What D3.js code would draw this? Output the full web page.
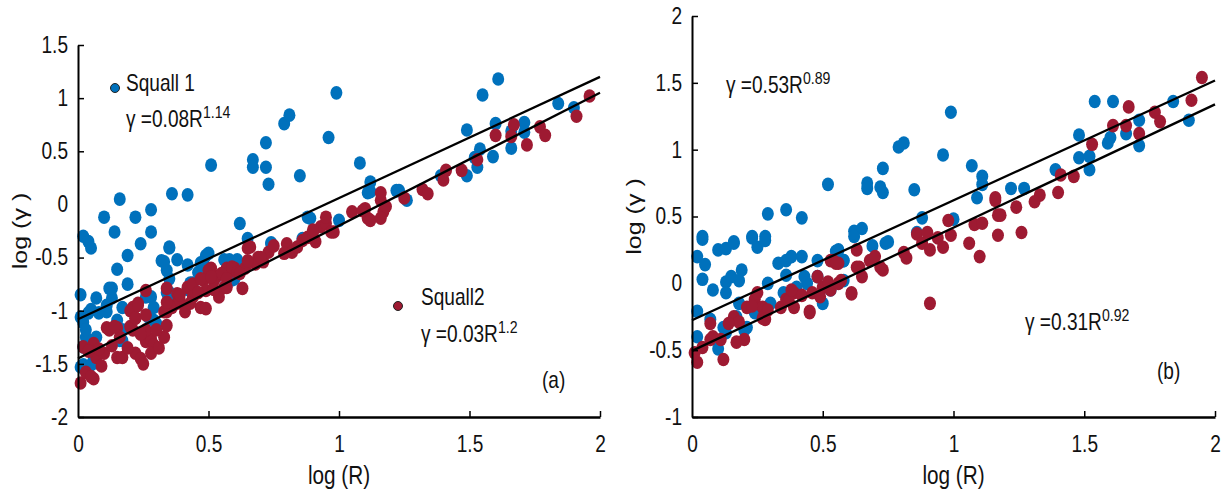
<!DOCTYPE html>
<html><head><meta charset="utf-8">
<script src="https://cdn.jsdelivr.net/npm/d3@7"></script>
<style>
body{margin:0;background:#fff}
svg text{font-family:"Liberation Sans",Arial,sans-serif;fill:#111}
</style>
</head><body><svg id="c" width="1222" height="492"></svg>
<script>
// ---------- data ----------
const xTicks = [0, 0.5, 1, 1.5, 2];
const yTicksA = [-2, -1.5, -1, -0.5, 0, 0.5, 1, 1.5];
const yTicksB = [-1, -0.5, 0, 0.5, 1, 1.5, 2];
const seriesNames = ["Squall 1", "Squall2"];
const colors = ["#0071bc", "#9e1a32"];

// panel (a) Squall 1  [log R, log gamma]
const squall1A = [
[0.02,-0.30],[0.04,-0.35],[0.05,-0.41],[0.10,-0.12],[0.14,-0.26],[0.16,0.05],[0.22,-0.12],[0.24,-0.37],
[0.28,-0.26],[0.28,-0.05],[0.36,0.10],[0.42,0.09],[0.35,-0.40],[0.51,0.37],[0.62,-0.18],[0.65,-0.32],
[0.67,0.42],[0.67,0.35],[0.72,0.58],[0.72,0.35],[0.73,0.19],[0.74,-0.37],[0.79,0.76],[0.81,0.84],
[0.85,0.27],[0.89,-0.13],[0.86,-0.32],[0.99,1.05],[0.96,0.63],[1.08,0.39],[1.12,0.21],[1.12,0.12],
[1.23,0.13],[1.26,0.04],[1.39,0.27],[1.49,0.70],[1.49,0.27],[1.52,0.44],[1.54,0.52],[1.53,0.35],
[1.55,1.03],[1.61,1.18],[1.59,0.45],[1.60,0.76],[1.66,0.53],[1.66,0.69],[1.71,0.77],[1.71,0.68],
[1.84,0.95],[1.90,0.91],[1.00,-0.15],[0.88,-0.12],[1.11,0.11],[1.22,0.13],
[0.19,-0.48],[0.15,-0.61],[0.19,-0.75],[0.13,-0.79],[0.07,-0.88],[0.04,-1.02],[0.02,-1.11],[0.03,-1.25],
[0.07,-1.25],[0.06,-1.46],[0.02,-1.51],[0.13,-0.88],[0.11,-1.01],[0.17,-1.28],[0.17,-0.97],[0.28,-0.87],
[0.29,-0.97],[0.27,-1.06],[0.32,-0.53],[0.35,-0.41],[0.38,-0.52],[0.34,-0.62],[0.35,-0.70],[0.42,-0.57],
[0.46,-0.64],[0.49,-0.48],[0.48,-0.54],[0.56,-0.52],[0.58,-0.52],[0.61,-0.52],[0.60,-0.70],[0.43,-0.74],
[0.35,-0.83],[0.29,-1.09],[0.74,-0.36],[0.50,-0.46],[0.47,-0.55],[0.59,-0.71],[0.33,-0.54],
[0.01,-0.85],[0.12,-0.79],[0.01,-1.06],[0.05,-0.99],[0.08,-1.02],[0.11,-0.95],[0.03,-1.18],[0.02,-1.34],
[0.07,-1.49],[0.05,-1.51],[0.01,-1.53],[0.15,-1.09],[0.17,-1.18],[0.16,-1.28],[0.26,-0.87],[0.30,-1.12],
[0.34,-0.83],[0.36,-0.90],[0.42,-0.80],[0.44,-0.74],[0.48,-0.69],[0.53,-0.68],[0.57,-0.68],[0.59,-0.65]
];
// panel (a) Squall 2
const squall2A = [
[0.01,-1.68],[0.06,-1.64],[0.03,-1.58],[0.02,-1.34],[0.06,-1.31],[0.07,-1.44],[0.10,-1.40],[0.11,-1.16],
[0.15,-1.16],[0.16,-1.25],[0.15,-1.44],[0.17,-1.44],[0.21,-0.97],[0.23,-0.93],[0.22,-1.07],[0.21,-1.18],
[0.22,-1.40],[0.24,-1.45],[0.26,-1.29],[0.28,-1.27],[0.26,-0.81],[0.26,-1.04],[0.26,-1.18],[0.29,-1.32],
[0.28,-1.40],[0.33,-1.25],[0.34,-1.14],[0.34,-1.01],[0.34,-0.79],[0.38,-0.84],[0.38,-0.93],[0.41,-1.01],
[0.42,-0.78],[0.44,-0.87],[0.47,-0.97],[0.48,-0.71],[0.49,-0.81],[0.51,-0.60],[0.53,-0.68],[0.54,-0.87],
[0.56,-0.78],[0.57,-0.60],[0.59,-0.62],[0.60,-0.60],[0.63,-0.79],[0.65,-0.41],[0.64,-0.60],
[0.50,-0.62],[0.52,-0.72],[0.55,-0.65],[0.57,-0.78],[0.59,-0.59],[0.66,-0.40],[0.69,-0.50],[0.71,-0.54],
[0.73,-0.45],[0.80,-0.37],[0.82,-0.45],[0.86,-0.34],[0.88,-0.31],[0.90,-0.27],[0.91,-0.35],[0.93,-0.21],
[0.95,-0.18],[0.95,-0.12],[0.98,-0.26],[1.05,-0.07],[1.10,-0.04],[1.11,-0.13],[1.16,0.04],[1.17,-0.07],
[1.18,-0.02],[0.90,-0.24],[0.97,-0.26],[1.09,-0.06],[1.12,-0.15],[1.16,0.11],[1.16,-0.13],[1.25,0.06],
[1.32,0.14],[1.34,0.10],[1.40,0.23],[1.41,0.32],[1.47,0.32],[1.53,0.42],[1.60,0.65],[1.67,0.75],
[1.66,0.64],[1.72,0.56],[1.77,0.73],[1.79,0.65],[1.91,0.83],[1.96,1.02],
[0.04,-1.38],[0.08,-1.36],[0.09,-1.52],[0.05,-1.62],[0.13,-1.33],[0.19,-1.35],[0.20,-1.15],[0.24,-1.22],
[0.30,-1.18],[0.31,-1.35],[0.36,-0.97],[0.39,-0.90],[0.44,-0.75],[0.46,-0.83],[0.47,-0.70],[0.52,-0.80],
[0.61,-0.64],[0.68,-0.56],[0.12,-1.18],[0.14,-1.15],[0.20,-1.00],[0.23,-0.95],[0.22,-1.07],[0.25,-1.50],
[0.33,-1.01],[0.34,-0.92],[0.39,-0.85],[0.43,-0.93],[0.49,-0.98],[0.51,-0.68],[0.57,-0.70],[0.62,-0.65],
[0.65,-0.53],[0.70,-0.50],[0.75,-0.39],[0.79,-0.46],[0.84,-0.40]
];
// panel (b) Squall 1
const squall1B = [
[0.52,0.74],[0.36,0.55],[0.29,0.52],[0.42,0.49],[0.04,0.35],[0.16,0.31],[0.23,0.35],[0.28,0.35],
[0.62,0.39],[0.65,0.41],[0.67,0.75],[0.67,0.71],[0.73,0.86],[0.72,0.72],[0.73,0.68],[0.79,1.02],
[0.81,1.05],[0.85,0.70],[0.75,0.31],[0.96,0.96],[1.07,0.88],[1.11,0.80],[1.11,0.74],[1.09,0.64],
[1.22,0.71],[1.27,0.71],[0.88,0.49],[1.00,0.48],[0.74,0.30],[0.69,0.28],[0.55,0.24],[0.58,0.17],
[0.99,1.28],[0.86,0.38],[1.39,0.85],[1.48,1.11],[1.48,0.94],[1.52,0.95],[1.52,0.85],[1.54,1.36],
[1.61,1.36],[1.59,1.05],[1.60,1.09],[1.66,1.12],[1.71,1.22],[1.71,1.03],[1.84,1.36],[1.90,1.22],
[0.04,0.33],[0.02,0.20],[0.05,0.14],[0.04,0.03],[0.08,-0.05],[0.10,0.25],[0.13,0.26],[0.16,0.30],
[0.23,0.34],[0.25,0.27],[0.28,0.32],[0.13,0.01],[0.13,-0.07],[0.15,0.05],[0.19,0.10],[0.18,0.02],
[0.33,0.15],[0.36,0.17],[0.38,0.20],[0.42,0.20],[0.36,0.06],[0.29,0.00],[0.35,-0.07],[0.43,0.05],
[0.48,0.17],[0.56,0.25],[0.18,-0.15],[0.02,-0.21],[0.02,-0.40],[0.10,-0.49],[0.12,-0.33],[0.17,-0.25],
[0.50,-0.15],[0.58,0.17],[0.21,-0.33],[0.20,-0.35],[0.24,-0.22],[0.30,-0.15],[0.40,-0.03],[0.44,0.00],
[0.48,0.05],[0.53,-0.05],[0.58,0.02],[0.62,0.35],[0.07,-0.27],[0.13,-0.37]
];
// panel (b) Squall 2
const squall2B = [
[0.02,-0.59],[0.01,-0.52],[0.12,-0.57],[0.04,-0.48],[0.07,-0.30],[0.08,-0.40],[0.11,-0.42],[0.20,-0.42],
[0.16,-0.25],[0.18,-0.29],[0.21,-0.18],[0.24,-0.12],[0.25,-0.07],[0.27,-0.18],[0.27,-0.26],[0.29,-0.20],
[0.34,-0.18],[0.36,-0.12],[0.39,-0.07],[0.39,-0.18],[0.42,-0.09],[0.45,-0.21],[0.46,-0.07],[0.48,0.05],
[0.50,-0.03],[0.52,0.01],[0.54,0.17],[0.56,0.15],[0.57,0.02],[0.61,-0.07],[0.63,0.12],[0.63,0.25],
[0.53,0.17],[0.55,0.15],[0.64,0.12],[0.65,0.05],[0.68,0.17],[0.70,0.20],[0.73,0.10],[0.81,0.23],
[0.82,0.19],[0.86,0.37],[0.88,0.30],[0.90,0.38],[0.91,0.25],[0.94,0.34],[0.96,0.27],[0.98,0.47],
[0.99,0.36],[0.91,-0.15],[1.06,0.30],[1.10,0.20],[1.08,0.44],[1.11,0.45],[1.16,0.62],[1.17,0.51],
[1.24,0.57],[1.26,0.38],[1.17,0.36],[1.40,0.68],[1.41,0.81],[1.46,0.80],[1.53,1.04],[1.61,1.18],
[1.66,1.18],[1.67,1.32],[1.71,1.12],[1.77,1.28],[1.79,1.21],[1.91,1.37],[1.95,1.54],[1.33,0.66],
[1.31,0.61],[1.18,0.51],[1.16,0.64],[0.07,-0.42],[0.14,-0.30],[0.17,-0.44],[0.23,-0.17],[0.28,-0.27],
[0.37,-0.13],[0.38,-0.05],[0.45,-0.22],[0.49,-0.10],[0.53,-0.05],[0.56,0.00],[0.61,-0.08],[0.72,0.12]
];

// fitted lines [intercept, slope] as drawn
const fitsA = [[-1.08, 1.14], [-1.45, 1.25]];
const fitsB = [[-0.276, 0.897], [-0.505, 0.922]];

// ---------- drawing ----------
const svg = d3.select("#c");
const FS = 23;     // tick / annotation font size
const SX = 0.83;   // horizontal condensing of the original typeface

function label(g, px, py, size, anchor){
  return g.append("text")
    .attr("transform", `translate(${px},${py}) scale(${SX},1)`)
    .attr("font-size", size).attr("text-anchor", anchor || "start");
}

function panel(cfg){
  const x = d3.scaleLinear().domain([0, 2]).range(cfg.xr);
  const y = d3.scaleLinear().domain(cfg.yd).range(cfg.yr);
  const g = svg.append("g");

  [cfg.s1, cfg.s2].forEach((s, i) => {
    g.append("g").selectAll("ellipse").data(s).join("ellipse")
      .attr("cx", d => x(d[0])).attr("cy", d => y(d[1]))
      .attr("rx", 6).attr("ry", 6.8).attr("fill", colors[i]);
  });
  g.append("g").selectAll("line").data(cfg.fits).join("line")
    .attr("x1", x(0)).attr("x2", x(2))
    .attr("y1", d => y(d[0])).attr("y2", d => y(d[0] + 2 * d[1]))
    .attr("stroke", "#000").attr("stroke-width", 2.3);

  const ax = g.append("g").attr("transform", `translate(0,${cfg.yr[0]})`)
    .call(d3.axisBottom(x).tickValues(xTicks).tickFormat(d => String(d))
      .tickSizeInner(-6).tickSizeOuter(0).tickPadding(19));
  ax.select(".domain").attr("stroke-width", 2.4);
  ax.selectAll(".tick line").attr("stroke-width", 1.5);
  const ay = g.append("g").attr("transform", `translate(${cfg.xr[0]},0)`)
    .call(d3.axisLeft(y).tickValues(cfg.yTicks).tickFormat(d => String(d))
      .tickSizeInner(-6).tickSizeOuter(0).tickPadding(10));
  ay.select(".domain").attr("stroke-width", 2);
  ay.selectAll(".tick line").attr("stroke-width", 1.5);
  g.selectAll(".tick text").attr("font-size", FS).attr("font-family", null)
    .attr("fill", "#111").attr("transform", `scale(${SX},1)`);
  ay.selectAll(".tick text").attr("x", -10 / SX);
  g.selectAll(".tick").filter(d => d === 0).select("line").remove();

  label(g, (cfg.xr[0] + cfg.xr[1]) / 2, 484, 25, "middle").text("log (R)");
  g.append("text")
    .attr("transform", `translate(${cfg.ylx},${(cfg.yr[0] + cfg.yr[1]) / 2}) rotate(-90) scale(1,${SX})`)
    .attr("text-anchor", "middle").attr("font-size", 25).text("log (γ )");

  label(g, cfg.tag[0], cfg.tag[1], FS).text(cfg.tag[2]);
  return g;
}

function eq(g, px, py, base, sup){
  const t = label(g, px, py, FS);
  t.append("tspan").text(base);
  t.append("tspan").attr("dy", -9).attr("font-size", 17).text(sup);
}

const gA = panel({xr:[78,600], yd:[-2,1.5], yr:[417,45], yTicks:yTicksA,
  s1:squall1A, s2:squall2A, fits:fitsA, ylx:27, tag:[542,388,"(a)"]});
const gB = panel({xr:[692,1215], yd:[-1,2], yr:[417,16], yTicks:yTicksB,
  s1:squall1B, s2:squall2B, fits:fitsB, ylx:641, tag:[1157,379,"(b)"]});

[[115,88,126,91],[398,306,421,305]].forEach((p, i) => {
  gA.append("circle").attr("cx", p[0]).attr("cy", p[1]).attr("r", 4.5)
    .attr("fill", colors[i]).attr("stroke", "#222").attr("stroke-width", 1);
  label(gA, p[2], p[3], FS).text(seriesNames[i]);
});
eq(gA, 126, 127, "γ =0.08R", "1.14");
eq(gA, 421, 342, "γ =0.03R", "1.2");
eq(gB, 726, 93, "γ =0.53R", "0.89");
eq(gB, 1025, 330, "γ =0.31R", "0.92");
</script>
</body></html>
